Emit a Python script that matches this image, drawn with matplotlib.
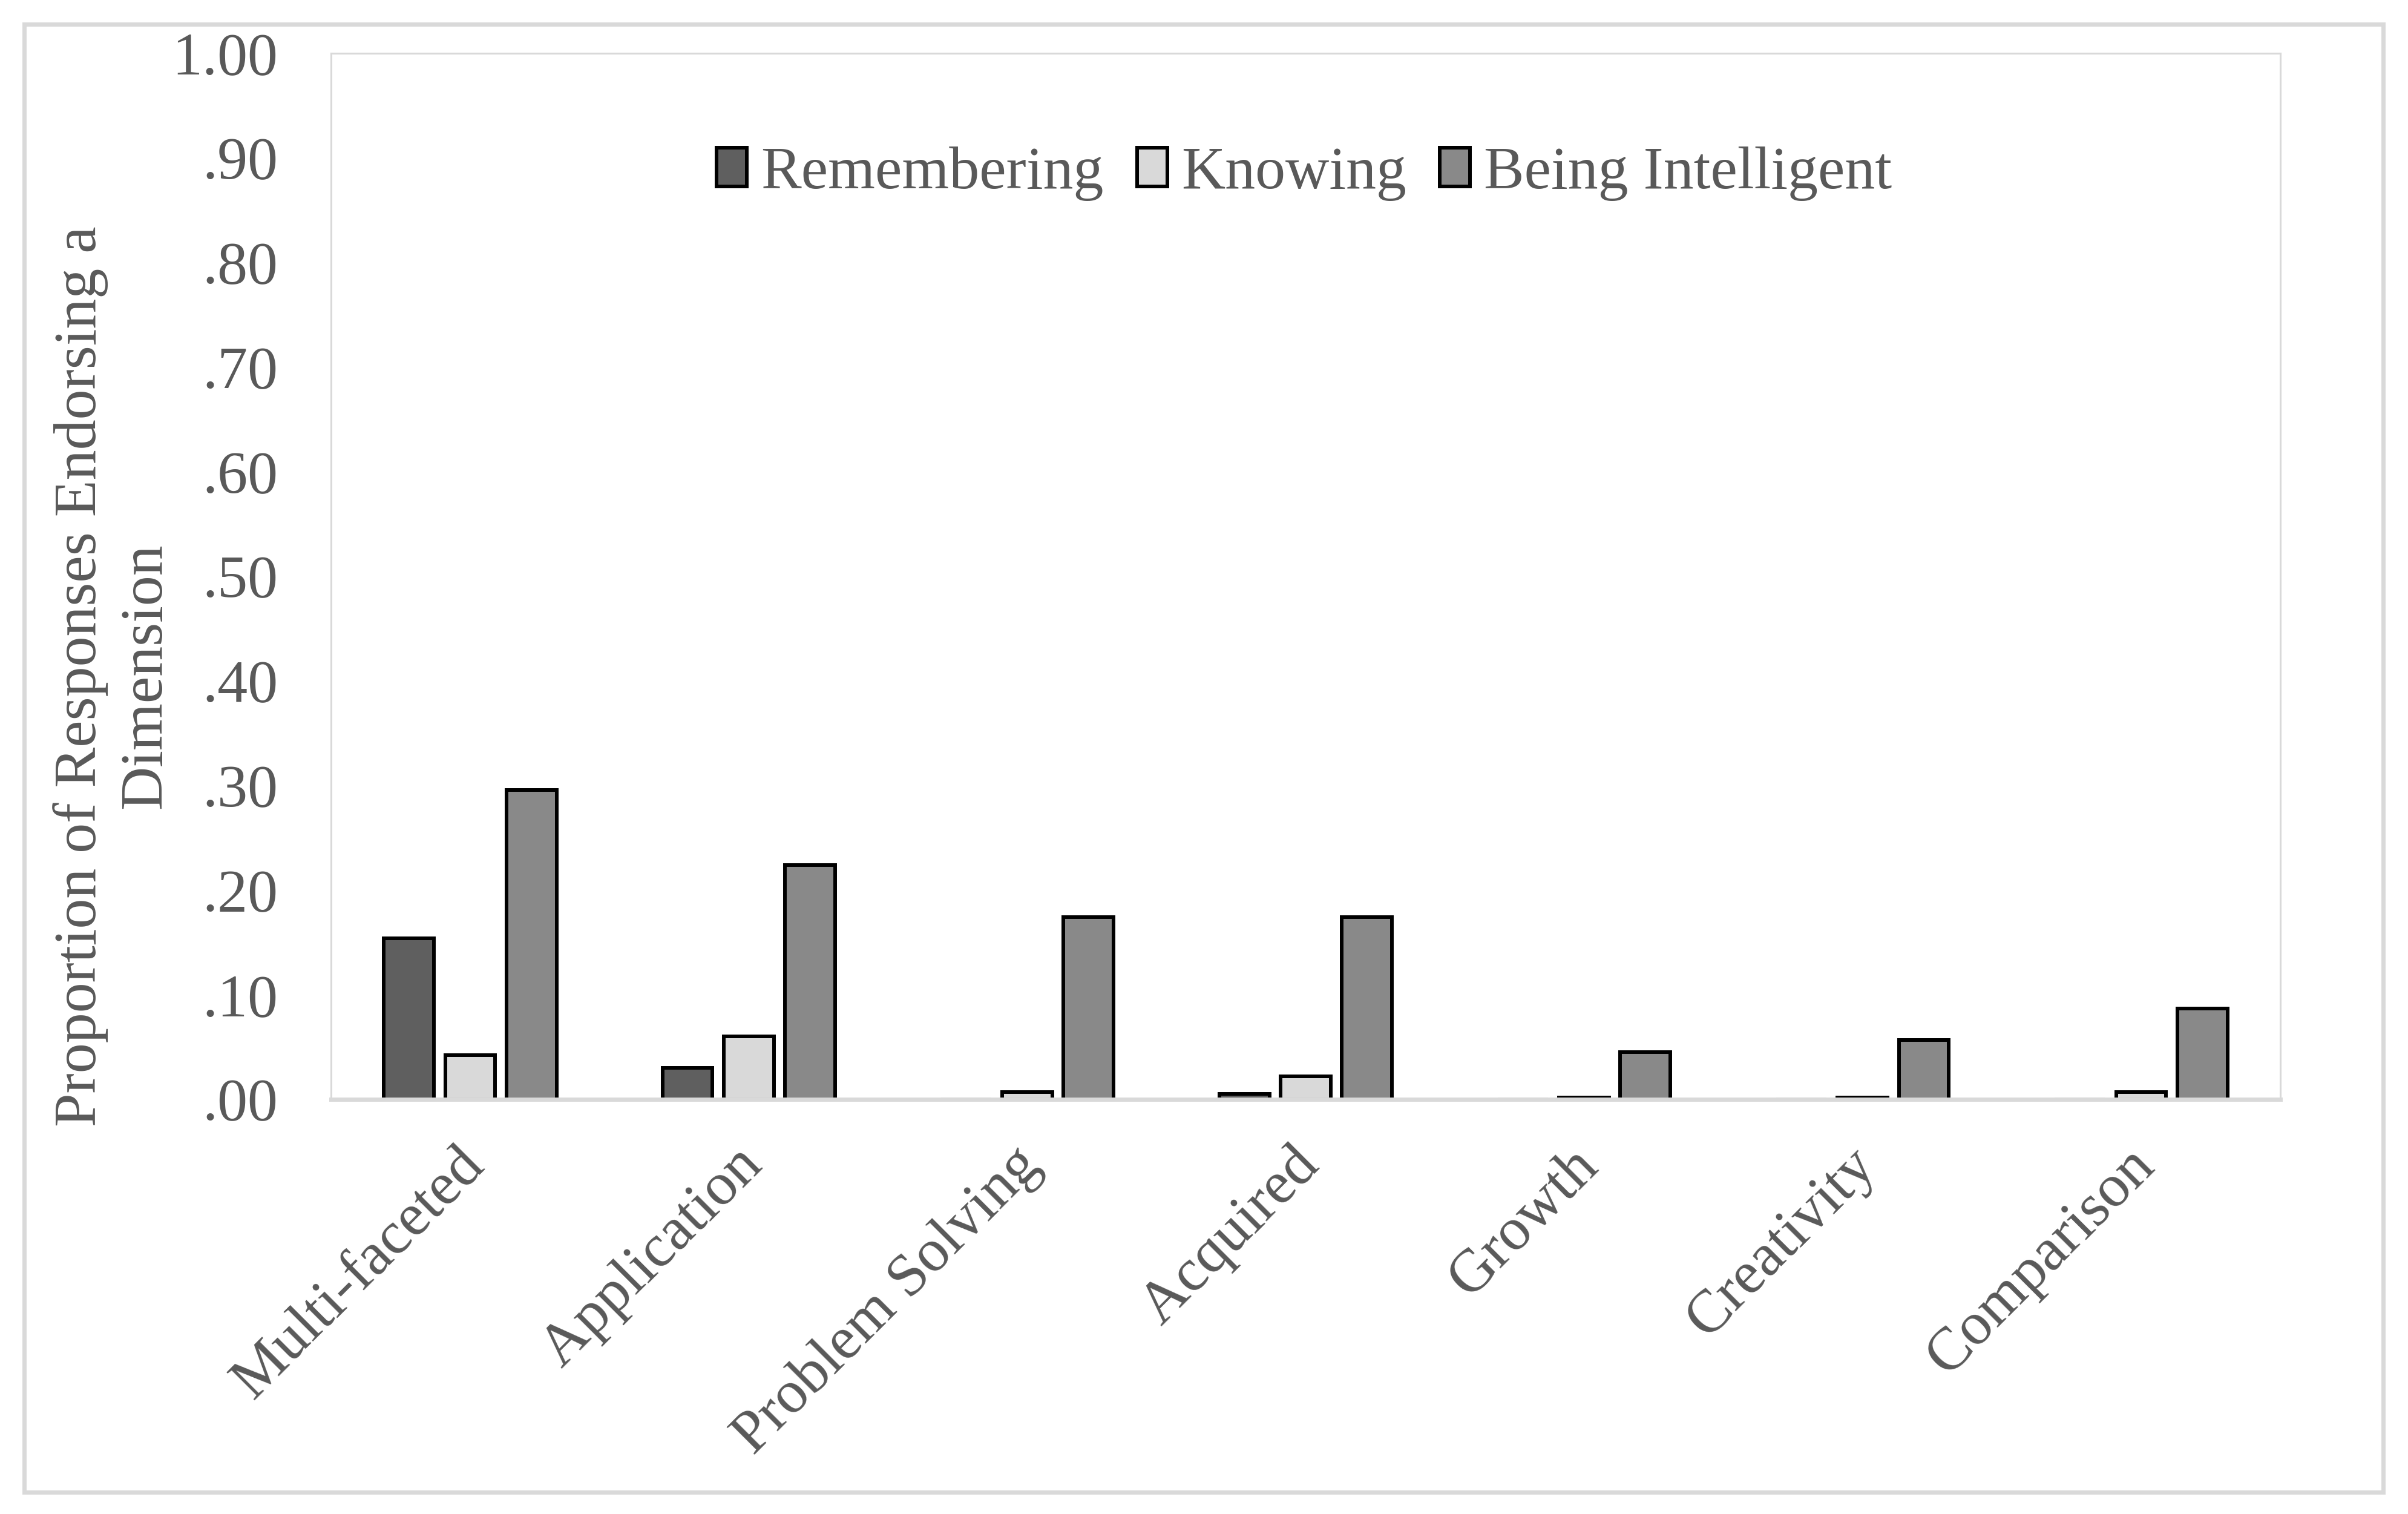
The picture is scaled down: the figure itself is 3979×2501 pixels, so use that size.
import matplotlib
matplotlib.use("Agg")
import matplotlib.pyplot as plt
import matplotlib.transforms as mtransforms
from matplotlib.patches import Rectangle
import numpy as np

# Data
categories = ["Multi-faceted", "Application", "Problem Solving", "Acquired",
              "Growth", "Creativity", "Comparison"]
remembering = [0.154, 0.030, 0.000, 0.005, 0.000, 0.000, 0.000]
knowing = [0.042, 0.060, 0.007, 0.022, 0.002, 0.002, 0.007]
being_intelligent = [0.296, 0.224, 0.174, 0.174, 0.045, 0.057, 0.087]
series_names = ["Remembering", "Knowing", "Being Intelligent"]
y_ticks = [0.0, 0.1, 0.2, 0.3, 0.4, 0.5, 0.6, 0.7, 0.8, 0.9, 1.0]
y_tick_labels = [".00", ".10", ".20", ".30", ".40", ".50", ".60", ".70", ".80", ".90", "1.00"]

text_color = "#595959"
bar_colors = ["#5f5f5f", "#d9d9d9", "#898989"]
plt.rcParams["font.family"] = ["Liberation Serif", "DejaVu Serif"]

W, H = 3980, 2501
fig = plt.figure(figsize=(W / 100, H / 100), dpi=100)
ax = fig.add_axes([547 / W, 1 - 1816 / H, (3768 - 547) / W, (1816 - 88) / H])

x = np.arange(len(categories))
width = 0.18
offset = 0.22
for i, (vals, name) in enumerate(zip([remembering, knowing, being_intelligent], series_names)):
    ax.bar(x + (i - 1) * offset, vals, width, color=bar_colors[i], edgecolor="black",
           linewidth=4.3, label=name, zorder=3)

ax.set_xlim(-0.5, len(categories) - 0.5)
ax.set_ylim(0, 1.0)
ax.set_yticks(y_ticks)
ax.set_yticklabels(y_tick_labels)
ax.tick_params(axis="y", length=0, pad=63, labelsize=72, labelcolor=text_color)
ax.tick_params(axis="x", length=0, labelsize=72, labelcolor=text_color)
ax.set_xticks(x)
ax.set_xticklabels(categories, rotation=45, ha="right", va="center",
                   rotation_mode="anchor")
shift = mtransforms.ScaledTranslation(8 / 100, -90 / 100, fig.dpi_scale_trans)
for lab in ax.get_xticklabels():
    lab.set_transform(lab.get_transform() + shift)

for side in ["top", "left", "right"]:
    ax.spines[side].set_color("#d9d9d9")
    ax.spines[side].set_linewidth(2.2)
ax.spines["bottom"].set_color("#d9d9d9")
ax.spines["bottom"].set_linewidth(5)
ax.spines["bottom"].set_zorder(4)

# y axis title (two lines, as in the reference)
fig.text(187 / W, 1 - 1117 / H, "Proportion of Responses Endorsing a\nDimension",
         rotation=90, ha="center", va="center", multialignment="center",
         fontsize=72, color=text_color, linespacing=1.25)

fig.legend(loc="center", bbox_to_anchor=(2155 / W, 1 - 287 / H), ncol=3, frameon=False,
           fontsize=72, labelcolor=text_color, handlelength=0.5, handleheight=0.6,
           handletextpad=0.23, columnspacing=0.55)

# outer chart border
fig.patches.append(Rectangle((39.5 / W, 1 - 2464.5 / H), (3938.5 - 39.5) / W, (2464.5 - 39.5) / H,
                             transform=fig.transFigure, fill=False, edgecolor="#d9d9d9",
                             linewidth=5))

fig.savefig("out.png", dpi=100, facecolor="white")
